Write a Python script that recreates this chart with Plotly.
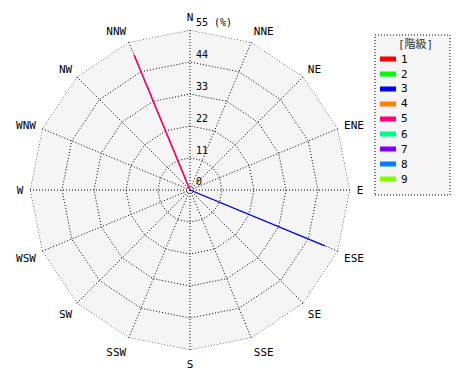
import plotly.graph_objects as go

directions = ["N", "NNE", "NE", "ENE", "E", "ESE", "SE", "SSE",
              "S", "SSW", "SW", "WSW", "W", "WNW", "NW", "NNW"]
classes = ["1", "2", "3", "4", "5", "6", "7", "8", "9"]
colors = ["#ff0000", "#00ff00", "#0000ff", "#ff8000", "#ff0080",
          "#00ff80", "#8000ff", "#0080ff", "#80ff00"]

class1 = [0, 0, 0, 0, 0, 0, 0, 0, 0, 0, 0, 0, 0, 0, 0, 50.2]
class2 = [0] * 16
class3 = [0, 0, 0, 0, 0, 50.2, 0, 0, 0, 0, 0, 0, 0, 0, 0, 0]
class4 = [0] * 16
class5 = [0, 0, 0, 0, 0, 0, 0, 0, 0, 0, 0, 0, 0, 0, 0, 50.2]
class6 = [0] * 16
class7 = [0] * 16
class8 = [0] * 16
class9 = [0] * 16
values = [class1, class2, class3, class4, class5, class6, class7, class8, class9]

radial_ticks = [0, 11, 22, 33, 44, 55]
radial_text = ["0", "11", "22", "33", "44", "55 (%)"]
rmax = 55

font = "DejaVu Sans Mono, Noto Sans CJK JP"
dot = "1px,2px"

fig = go.Figure()
# outer dotted boundary
fig.add_trace(go.Scatterpolar(r=[rmax] * 17, theta=directions + [directions[0]],
                              mode="lines", showlegend=False, hoverinfo="skip",
                              line=dict(color="black", width=1, dash=dot)))
for name, col, vals in zip(classes, colors, values):
    r, th = [], []
    for d, v in zip(directions, vals):
        if v > 0:
            r += [0, v, None]
            th += [d, d, None]
    if not r:
        r, th = [0, 0], ["N", "N"]
    fig.add_trace(go.Scatterpolar(r=r, theta=th, mode="lines", name=name,
                                  showlegend=False,
                                  line=dict(color=col, width=1.3)))

# centre dot
fig.add_trace(go.Scatterpolar(r=[0], theta=["N"], mode="markers", showlegend=False,
                              hoverinfo="skip", marker=dict(color="black", size=5)))
# radial tick labels beside the north spoke
fig.add_trace(go.Scatterpolar(r=[max(t, 0.3) for t in radial_ticks],
                              theta=["N"] * len(radial_ticks),
                              mode="markers+text", text=[t + "<br> " for t in radial_text],
                              textposition="middle right", cliponaxis=False,
                              marker=dict(size=8, color="rgba(0,0,0,0)"),
                              showlegend=False, hoverinfo="skip",
                              textfont=dict(size=10, family=font, color="black")))

# manual legend (panel, swatches, labels)
W, H = 470, 380
shapes = [dict(type="rect", xref="paper", yref="paper",
               x0=375/W, x1=450/W, y0=(H-195)/H, y1=(H-35)/H,
               line=dict(color="black", width=1, dash=dot),
               fillcolor="#f5f5f5", layer="below")]
annotations = [dict(text="[階級]", xref="paper", yref="paper",
                    x=415/W, y=(H-44)/H, showarrow=False,
                    xanchor="center", yanchor="middle",
                    font=dict(size=11, family=font, color="#333"))]
for i, (name, col) in enumerate(zip(classes, colors)):
    yc = 59 + 15 * i
    shapes.append(dict(type="rect", xref="paper", yref="paper",
                       x0=380/W, x1=396/W, y0=(H-yc-2.5)/H, y1=(H-yc+2.5)/H,
                       line=dict(width=0), fillcolor=col))
    annotations.append(dict(text=name, xref="paper", yref="paper",
                            x=399/W, y=(H-yc)/H, showarrow=False,
                            xanchor="left", yanchor="middle",
                            font=dict(size=11, family=font)))

fig.update_layout(
    width=W, height=H,
    margin=dict(l=0, r=0, t=0, b=0),
    paper_bgcolor="white",
    showlegend=False,
    font=dict(family=font, size=11, color="black"),
    polar=dict(
        domain=dict(x=[30/W, 350/W], y=[30/H, 350/H]),
        gridshape="linear",
        bgcolor="#f5f5f5",
        radialaxis=dict(range=[0, rmax], tickvals=radial_ticks,
                        angle=90, showline=False, ticks="", showticklabels=False,
                        gridcolor="black", griddash=dot, gridwidth=1),
        angularaxis=dict(direction="clockwise", rotation=90, type="category",
                         categoryarray=directions,
                         showline=False, ticks="outside", ticklen=4,
                         tickcolor="rgba(0,0,0,0)",
                         gridcolor="black", griddash=dot, gridwidth=1,
                         tickfont=dict(size=11, family=font)),
    ),
    shapes=shapes,
    annotations=annotations,
)

fig.write_html("out.html")
